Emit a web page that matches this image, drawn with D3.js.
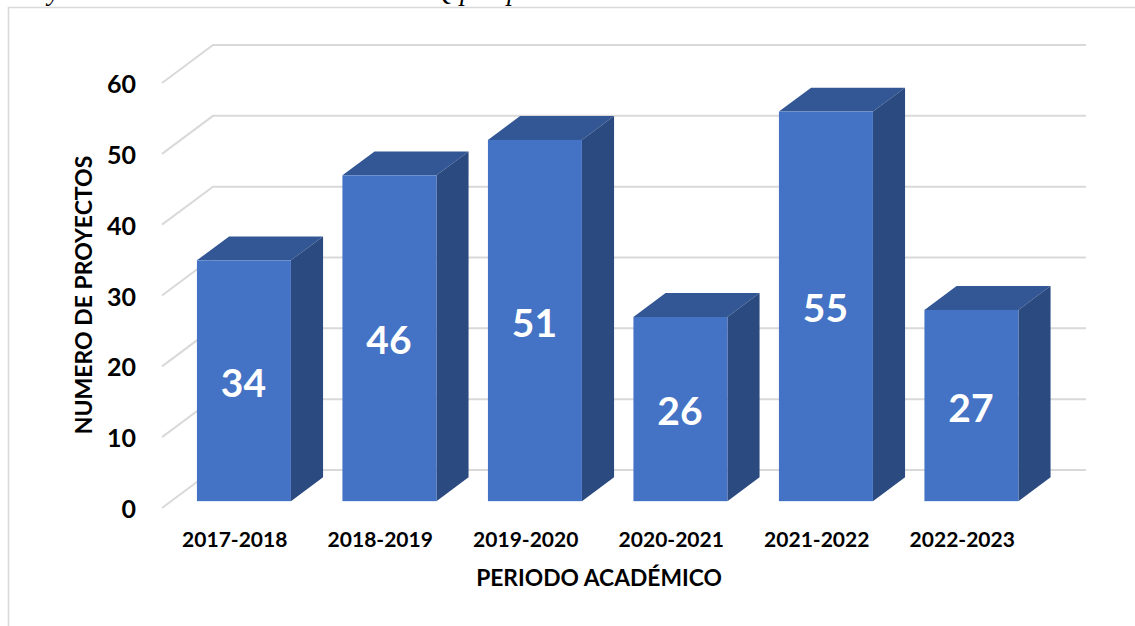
<!DOCTYPE html>
<html lang="en">
<head>
    <meta charset="UTF-8">
    <title>Proyectos por periodo</title>
    <script src="https://d3js.org/d3.v7.min.js"></script>
    <style>
        body { margin: 0; background: white; overflow: hidden; }
        text { font-family: Lato, "Open Sans", sans-serif; font-weight: bold; fill: black; }
        .axis path { display: none; }
        .axis line { display: none; }
    </style>
</head>
<body>
    <svg id="chart" width="1135" height="626"></svg>
    <script>
        // Chart data
        const periods = ["2017-2018", "2018-2019", "2019-2020", "2020-2021", "2021-2022", "2022-2023"];
        const projects = [34, 46, 51, 26, 55, 27];
        const yTicks = [0, 10, 20, 30, 40, 50, 60];
        // Bits of the caption above the chart that survive the crop
        const captionBits = [["y", 48], ["Q", 434], ["p", 460], ["p", 507]];

        const svg = d3.select("#chart");

        // Front edge of the floor, and how far the 3D depth shifts things
        const x = d3.scaleBand().domain(periods).range([162, 1035]);
        const y = d3.scaleLinear().domain([0, 60]).range([508, 83]);
        const depthX = 51, depthY = -38;
        const barWidth = 94;
        const barFront = 0.18, barBack = 0.81;

        // Chart frame, cut off by the page on the right and bottom
        svg.append("path")
            .attr("d", "M8.5,640V7.5H1135")
            .attr("fill", "none")
            .attr("stroke", "#d9d9d9")
            .attr("stroke-width", 1.6);

        svg.append("g")
            .selectAll("text")
            .data(captionBits)
            .enter().append("text")
            .attr("x", d => d[1])
            .attr("y", 0)
            .style("font-family", "Liberation Serif")
            .style("font-style", "italic")
            .style("font-weight", "normal")
            .style("font-size", "27px")
            .text(d => d[0]);

        // Gridlines: floor diagonal then along the back wall
        svg.append("g")
            .selectAll("path")
            .data(yTicks)
            .enter().append("path")
            .attr("d", d => {
                const x0 = x.range()[0], x1 = x.range()[1];
                return `M${x0},${y(d)}L${x0 + depthX},${y(d) + depthY}H${x1 + depthX}`;
            })
            .attr("fill", "none")
            .attr("stroke", "#d9d9d9")
            .attr("stroke-width", 2);

        // Bars, each one top face, side face and front face
        const bars = svg.append("g")
            .selectAll("g")
            .data(periods.map((p, i) => ({ period: p, value: projects[i] })))
            .enter().append("g");

        const left = d => x(d.period) + x.bandwidth() / 2 + depthX * barFront - barWidth / 2;
        const frontY = v => y(v) + depthY * barFront;
        const dx = depthX * (barBack - barFront);
        const dy = depthY * (barBack - barFront);

        bars.append("path")
            .attr("d", d => {
                const l = left(d), t = frontY(d.value);
                return `M${l},${t}l${dx},${dy}h${barWidth}l${-dx},${-dy}Z`;
            })
            .attr("fill", "#335795");

        bars.append("path")
            .attr("d", d => {
                const r = left(d) + barWidth, t = frontY(d.value), b = frontY(0);
                return `M${r},${t}l${dx},${dy}V${b + dy}l${-dx},${-dy}Z`;
            })
            .attr("fill", "#2b4a80");

        bars.append("rect")
            .attr("x", left)
            .attr("y", d => frontY(d.value))
            .attr("width", barWidth)
            .attr("height", d => frontY(0) - frontY(d.value))
            .attr("fill", "#4472c4");

        bars.append("text")
            .attr("x", d => left(d) + barWidth / 2 - 0.5)
            .attr("y", d => (frontY(0) + frontY(d.value)) / 2 + 2)
            .attr("dy", "0.36em")
            .attr("text-anchor", "middle")
            .style("fill", "white")
            .style("font-size", "39px")
            .text(d => d.value);

        // Axes
        const yAxis = svg.append("g")
            .attr("class", "axis")
            .attr("transform", "translate(136,1.5)")
            .call(d3.axisLeft(y).tickValues(yTicks).tickSize(0).tickPadding(0));
        yAxis.selectAll("text").style("font-size", "25px");

        const xAxis = svg.append("g")
            .attr("class", "axis")
            .attr("transform", "translate(0,532)")
            .call(d3.axisBottom(x).tickSize(0).tickPadding(0));
        xAxis.selectAll("text").style("font-size", "21px");

        // Axis titles
        svg.append("text")
            .attr("x", 599).attr("y", 586)
            .attr("text-anchor", "middle")
            .style("font-size", "22.8px")
            .text("PERIODO ACADÉMICO");

        svg.append("text")
            .attr("transform", "translate(92,295) rotate(-90)")
            .attr("text-anchor", "middle")
            .style("font-size", "23px")
            .text("NUMERO DE PROYECTOS");
    </script>
</body>
</html>
